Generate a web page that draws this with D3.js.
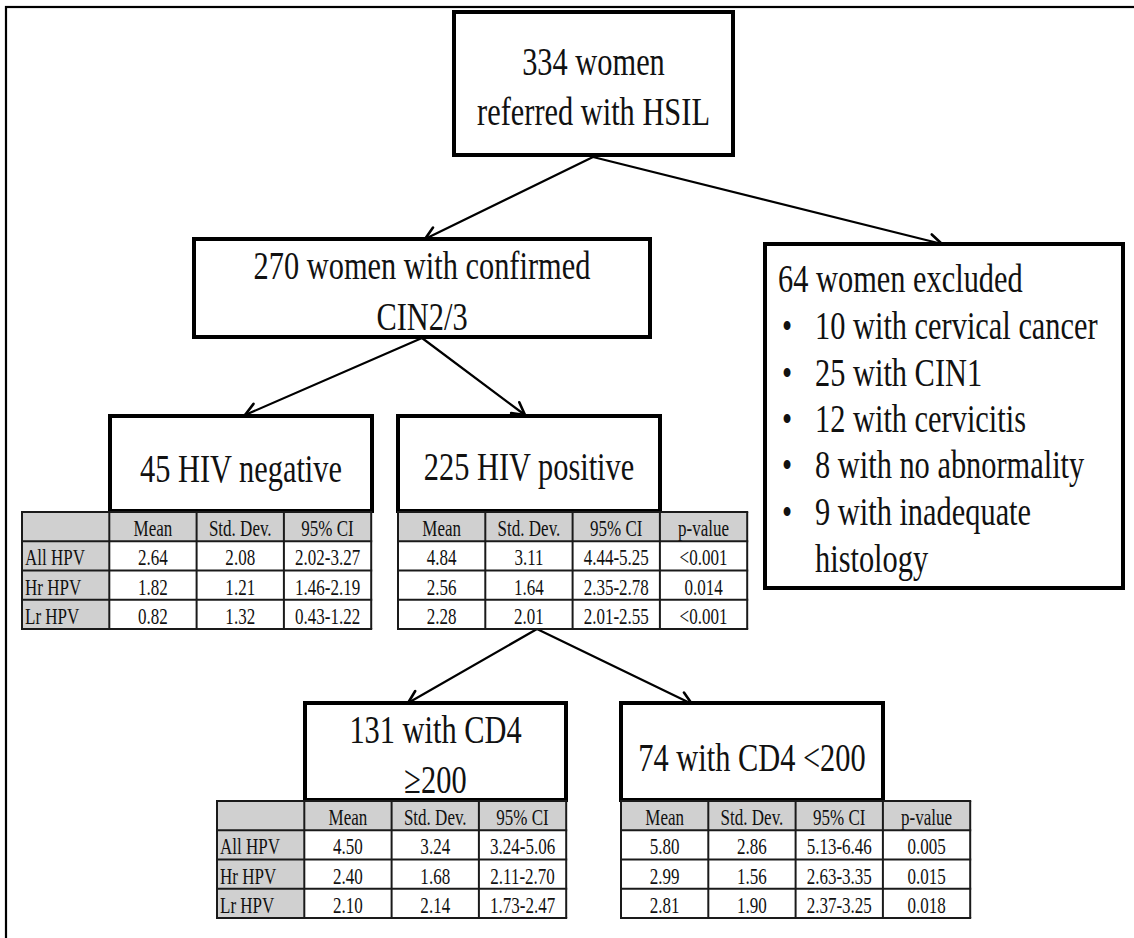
<!DOCTYPE html>
<html>
<head>
<meta charset="utf-8">
<script src="https://cdn.jsdelivr.net/npm/d3@7"></script>
<style>
  html, body { margin: 0; padding: 0; background: #fff; }
  svg { display: block; }
  text { font-family: "Liberation Serif", "Times New Roman", serif; fill: #111; }
</style>
</head>
<body>
<svg id="chart" width="1134" height="938"></svg>
<script>
// ---------------- data ----------------
const topBoxLines = ["334 women", "referred with HSIL"];
const confirmedLines = ["270 women with confirmed", "CIN2/3"];
const excludedTitle = "64 women excluded";
const excludedItems = ["10 with cervical cancer", "25 with CIN1", "12 with cervicitis", "8 with no abnormality", "9 with inadequate", "histology"];
const hivNegLines = ["45 HIV negative"];
const hivPosLines = ["225 HIV positive"];
const cd4HighLines = ["131 with CD4", "\u2265200"];
const cd4LowLines = ["74 with CD4 <200"];

const statCols = ["Mean", "Std. Dev.", "95% CI"];
const statColsP = ["Mean", "Std. Dev.", "95% CI", "p-value"];
const hpvRows = ["All HPV", "Hr HPV", "Lr HPV"];

const hivNegMean = [2.64, 1.82, 0.82];
const hivNegSD = [2.08, 1.21, 1.32];
const hivNegCI = ["2.02-3.27", "1.46-2.19", "0.43-1.22"];

const hivPosMean = [4.84, 2.56, 2.28];
const hivPosSD = [3.11, 1.64, 2.01];
const hivPosCI = ["4.44-5.25", "2.35-2.78", "2.01-2.55"];
const hivPosP = ["<0.001", "0.014", "<0.001"];

const cd4HighMean = [4.50, 2.40, 2.10];
const cd4HighSD = [3.24, 1.68, 2.14];
const cd4HighCI = ["3.24-5.06", "2.11-2.70", "1.73-2.47"];

const cd4LowMean = [5.80, 2.99, 2.81];
const cd4LowSD = [2.86, 1.56, 1.90];
const cd4LowCI = ["5.13-6.46", "2.63-3.35", "2.37-3.25"];
const cd4LowP = ["0.005", "0.015", "0.018"];

// ---------------- drawing ----------------
const svg = d3.select("#chart");
const BIG = 40, BIG_SX = 0.76;
const SMALL = 23, SMALL_SX = 0.74;
const f2 = d3.format(".2f");

function label(g, str, x, y, size, anchor) {
  const sx = size >= 30 ? BIG_SX : SMALL_SX;
  g.append("text")
    .attr("transform", `translate(${x},${y}) scale(${sx},1)`)
    .attr("text-anchor", anchor || "middle")
    .style("font-size", size + "px")
    .text(str);
}

// outer frame (right / bottom run off the page)
svg.append("rect").attr("x", 6).attr("y", 7).attr("width", 1300).attr("height", 1100)
  .attr("fill", "none").attr("stroke", "#000").attr("stroke-width", 2.2);

function box(x0, y0, x1, y1) {
  svg.append("rect").attr("x", x0).attr("y", y0).attr("width", x1 - x0).attr("height", y1 - y0)
    .attr("fill", "#fff").attr("stroke", "#000").attr("stroke-width", 4);
}

function boxText(lines, cx, baselines) {
  lines.forEach((l, i) => label(svg, l, cx, baselines[i], BIG));
}

function arrow(x1, y1, x2, y2) {
  const g = svg.append("g").attr("stroke", "#000").attr("fill", "none").attr("stroke-linecap", "round");
  g.append("line").attr("x1", x1).attr("y1", y1).attr("x2", x2).attr("y2", y2).attr("stroke-width", 2.2);
  const a = Math.atan2(y2 - y1, x2 - x1), L = 14, s = Math.PI / 6.2;
  [a + Math.PI - s, a + Math.PI + s].forEach(b => {
    g.append("line").attr("x1", x2).attr("y1", y2)
      .attr("x2", x2 + L * Math.cos(b)).attr("y2", y2 + L * Math.sin(b)).attr("stroke-width", 2.6);
  });
}

function table(x0, y0, withLabels, cols, columnsData) {
  const g = svg.append("g");
  const colDomain = (withLabels ? ["__lab"] : []).concat(cols);
  const colW = 87.3, rowH = 29.25;
  const xs = d3.scaleBand().domain(colDomain).range([x0, x0 + colDomain.length * colW]);
  const ys = d3.scaleBand().domain(["__head"].concat(hpvRows)).range([y0, y0 + 4 * rowH]);
  colDomain.forEach(c => {
    ["__head"].concat(hpvRows).forEach(r => {
      const grey = r === "__head" || c === "__lab";
      g.append("rect").attr("x", xs(c)).attr("y", ys(r)).attr("width", xs.bandwidth()).attr("height", ys.bandwidth())
        .attr("fill", grey ? "#d0d0d0" : "#fff");
    });
  });
  const gx = xs.range(), gy = ys.range();
  colDomain.concat(["__end"]).forEach(c => {
    const x = c === "__end" ? gx[1] : xs(c);
    g.append("line").attr("x1", x).attr("x2", x).attr("y1", gy[0]).attr("y2", gy[1])
      .attr("stroke", "#1a1a1a").attr("stroke-width", 2);
  });
  ["__head"].concat(hpvRows, ["__end"]).forEach(r => {
    const y = r === "__end" ? gy[1] : ys(r);
    g.append("line").attr("x1", gx[0] - 1).attr("x2", gx[1] + 1).attr("y1", y).attr("y2", y)
      .attr("stroke", "#1a1a1a").attr("stroke-width", 2);
  });
  cols.forEach(c => label(g, c, xs(c) + xs.bandwidth() / 2, ys("__head") + 24, SMALL));
  if (withLabels) hpvRows.forEach(r => label(g, r, xs("__lab") + 3, ys(r) + 24, SMALL, "start"));
  cols.forEach((c, ci) => {
    hpvRows.forEach((r, ri) => {
      const v = columnsData[ci][ri];
      label(g, typeof v === "number" ? f2(v) : v, xs(c) + xs.bandwidth() / 2, ys(r) + 24, SMALL);
    });
  });
}

// arrows
arrow(593, 157, 425, 239);
arrow(593, 157, 942, 244);
arrow(422, 338, 245, 415);
arrow(422, 338, 525, 415);
arrow(537, 629, 408, 703);
arrow(537, 629, 692, 704);

// boxes
box(454, 12, 733, 155);
boxText(topBoxLines, 593.5, [75, 125]);

box(194, 239, 650, 337);
boxText(confirmedLines, 422, [279, 330]);

box(765, 244, 1123, 588);
label(svg, excludedTitle, 778, 292, BIG, "start");
const exBase = [339, 386, 432, 478, 525, 572];
excludedItems.forEach((t, i) => {
  if (i < 5) label(svg, "\u2022", 782, exBase[i], BIG - 2, "start");
  label(svg, t, 815, exBase[i], BIG, "start");
});

box(110, 416, 372, 511);
boxText(hivNegLines, 241, [482]);
box(398, 416, 660, 511);
boxText(hivPosLines, 529, [480]);

box(305, 703, 566, 800);
boxText(cd4HighLines, 435.5, [743, 793]);
box(621, 703, 883, 800);
boxText(cd4LowLines, 752, [771]);

// tables
table(22, 512, true, statCols, [hivNegMean, hivNegSD, hivNegCI]);
table(398, 512, false, statColsP, [hivPosMean, hivPosSD, hivPosCI, hivPosP]);
table(217, 801, true, statCols, [cd4HighMean, cd4HighSD, cd4HighCI]);
table(621, 801, false, statColsP, [cd4LowMean, cd4LowSD, cd4LowCI, cd4LowP]);
</script>
</body>
</html>
